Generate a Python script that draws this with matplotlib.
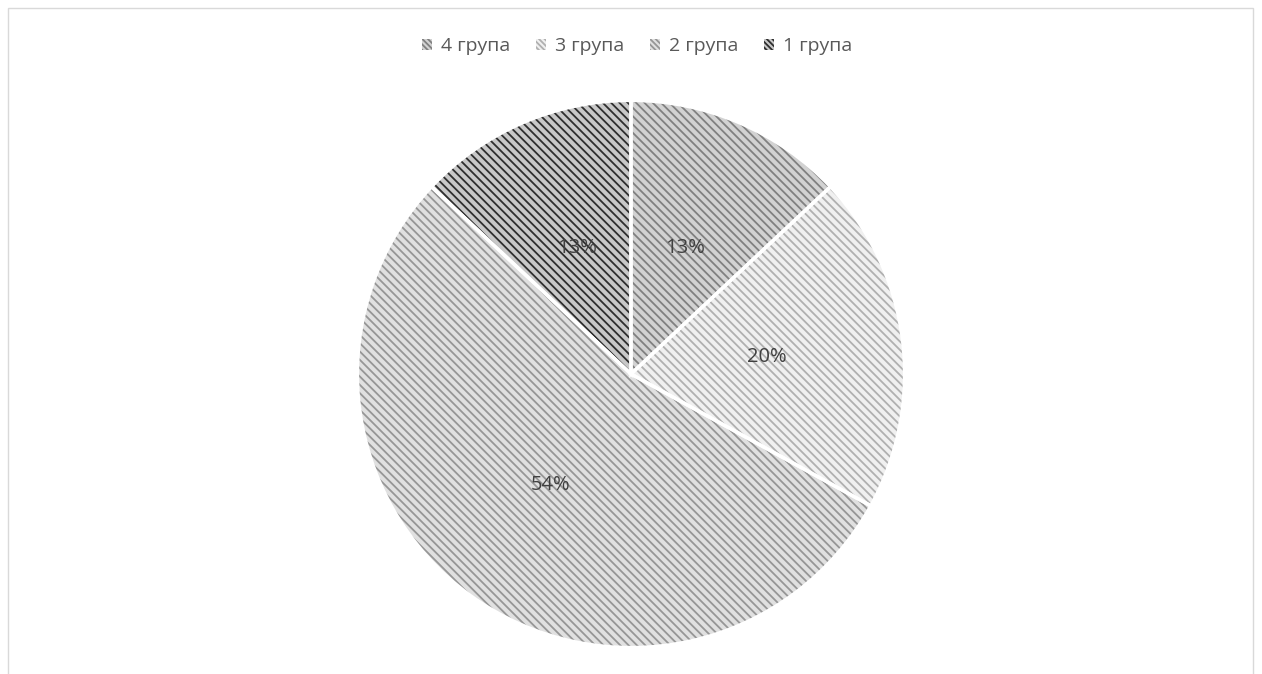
import matplotlib
matplotlib.use("Agg")
import matplotlib.pyplot as plt
from matplotlib.patches import Rectangle, Patch

labels = ["4 група", "3 група", "2 група", "1 група"]
values = [13, 20, 54, 13]
face_colors = ["#d2d2d2", "#f0f0f0", "#e0e0e0", "#c8c8c8"]
hatch_colors = ["#808080", "#b0b0b0", "#969696", "#2e2e2e"]

plt.rcParams['font.family'] = ['Open Sans', 'DejaVu Sans']
plt.rcParams['hatch.linewidth'] = 1.3

fig = plt.figure(figsize=(12.62, 6.74), dpi=100)
fig.patches.append(Rectangle((8/1262, -0.05), (1253-8)/1262, (666+0.05*674)/674,
                             transform=fig.transFigure, fill=False,
                             edgecolor="#d9d9d9", linewidth=1))

R = 275
cy = 674 - 374
ax = fig.add_axes([(631 - R)/1262, (cy - R)/674, 2*R/1262, 2*R/674])
wedges, texts, autotexts = ax.pie(values, startangle=90, counterclock=False,
                                  autopct='%.0f%%', pctdistance=0.5,
                                  wedgeprops=dict(linewidth=0),
                                  textprops=dict(color="#404040", fontsize=14.5))
for w, fc, hc in zip(wedges, face_colors, hatch_colors):
    w.set_facecolor(fc)
    w.set_edgecolor(hc)
    w.set_hatch('\\\\\\\\')
    w.set_linewidth(0)
# white borders
ax.pie(values, startangle=90, counterclock=False,
       wedgeprops=dict(fill=False, edgecolor="white", linewidth=2.5))
ax.set_xlim(-1.005, 1.005)
ax.set_ylim(-1.005, 1.005)
ax.set_aspect('equal')

handles = [Patch(facecolor=fc, edgecolor=hc, hatch='\\\\\\\\\\\\', linewidth=0)
           for fc, hc in zip(face_colors, hatch_colors)]
fig.legend(handles, labels, loc='center', bbox_to_anchor=(0.5 + 6/1262, 1 - 46/674), ncol=4,
           frameon=False, fontsize=14, handlelength=0.5, handleheight=0.5,
           handletextpad=0.45, columnspacing=1.35, labelcolor="#595959")

fig.savefig("out.png", dpi=100)
